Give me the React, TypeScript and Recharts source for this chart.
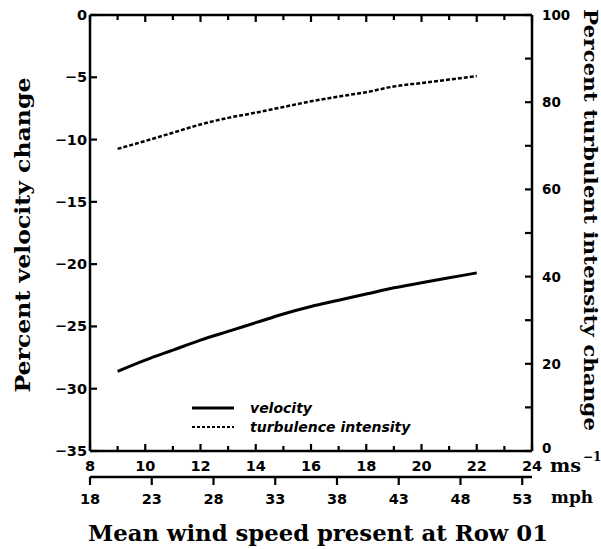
import { LineChart, Line, XAxis, YAxis, Legend, Label } from 'recharts';

const speedMs = [9, 10, 11, 12, 13, 14, 15, 16, 17, 18, 19, 20, 21, 22];
const velocityChange = [-28.6, -27.7, -26.9, -26.1, -25.4, -24.7, -24.0, -23.4, -22.9, -22.4, -21.9, -21.5, -21.1, -20.7];
const turbulenceChange = [69.3, 71.1, 73.0, 74.9, 76.4, 77.6, 78.9, 80.2, 81.3, 82.3, 83.6, 84.4, 85.2, 86.0];

const msTicks = [8, 9, 10, 11, 12, 13, 14, 15, 16, 17, 18, 19, 20, 21, 22, 23, 24];
const mphTicks = [18, 23, 28, 33, 38, 43, 48, 53];
const velocityTicks = [-35, -30, -25, -20, -15, -10, -5, 0];
const turbulenceTicks = [0, 10, 20, 30, 40, 50, 60, 70, 80, 90, 100];

const data = speedMs.map((s, i) => ({
  speed: s,
  velocity: velocityChange[i],
  turbulence: turbulenceChange[i],
}));

// mph ticks placed on the m/s scale (1 m/s = 2.237 mph, 18 mph at the left edge)
const mphTickPos = mphTicks.map((m) => 8 + (m - 18) / 2.237);

const sans = '"DejaVu Sans", sans-serif';
const serif = '"DejaVu Serif", serif';
const axisLine = { stroke: '#000', strokeWidth: 2.5 };

const fmt = (v: number) => (v < 0 ? '\u2212' + Math.abs(v) : String(v));

// ticks point into the plot, labels drawn by hand
function BottomTick(props: any) {
  const { x, y, payload } = props;
  const major = payload.value % 2 === 0;
  return (
    <g>
      <line x1={x} x2={x} y1={y} y2={y - (major ? 7 : 5)} stroke="#000" strokeWidth={2.2} />
      {major && (
        <text x={x} y={y + 20} textAnchor="middle" fontFamily={sans} fontWeight="bold" fontSize={14.5} fill="#000">
          {payload.value}
        </text>
      )}
    </g>
  );
}

function TopTick(props: any) {
  const { x, y, payload } = props;
  const major = payload.value % 2 === 0;
  return <line x1={x} x2={x} y1={y} y2={y + (major ? 7 : 5)} stroke="#000" strokeWidth={2.2} />;
}

function MphTick(props: any) {
  const { x, y, index } = props;
  return (
    <g>
      <line x1={x} x2={x} y1={y} y2={y + 8} stroke="#000" strokeWidth={2.2} />
      <text x={x} y={y + 27} textAnchor="middle" fontFamily={sans} fontWeight="bold" fontSize={14.5} fill="#000">
        {mphTicks[index]}
      </text>
    </g>
  );
}

function LeftTick(props: any) {
  const { x, y, payload } = props;
  return (
    <g>
      <line x1={x} x2={x + 7} y1={y} y2={y} stroke="#000" strokeWidth={2.2} />
      <text x={x - 3} y={y + 5} textAnchor="end" fontFamily={sans} fontWeight="bold" fontSize={14.5} fill="#000">
        {fmt(payload.value)}
      </text>
    </g>
  );
}

function RightTick(props: any) {
  const { x, y, payload } = props;
  const labelled = payload.value % 20 === 0;
  return (
    <g>
      <line x1={x} x2={x - 7} y1={y} y2={y} stroke="#000" strokeWidth={2.2} />
      {labelled && (
        <text x={x + 10} y={payload.value === 0 ? y + 2 : y + 5} textAnchor="start" fontFamily={sans} fontWeight="bold" fontSize={13.5} fill="#000">
          {payload.value}
        </text>
      )}
    </g>
  );
}

function LegendBox(props: any) {
  const items = (props.payload || [])
    .filter((it: any) => it.type !== 'none' && (it.value === 'velocity' || it.value === 'turbulence intensity'))
    .sort((a: any, b: any) => (a.value === 'velocity' ? -1 : b.value === 'velocity' ? 1 : 0));
  return (
    <div>
      {items.map((it: any) => (
        <div key={it.value} style={{ display: 'flex', alignItems: 'center', height: 19 }}>
          <svg width={46} height={6} style={{ marginRight: 12 }}>
            <line
              x1={0}
              x2={42}
              y1={3}
              y2={3}
              stroke="#000"
              strokeWidth={it.value === 'velocity' ? 3 : 2}
              strokeDasharray={it.value === 'velocity' ? undefined : '3 2'}
            />
          </svg>
          <span style={{ fontFamily: sans, fontStyle: 'italic', fontWeight: 'bold', fontSize: 14, color: '#000' }}>
            {it.value}
          </span>
        </div>
      ))}
    </div>
  );
}

export default function App() {
  return (
    <div style={{ position: 'absolute', left: 0, top: 0, background: '#fff' }}>
      <LineChart width={601} height={549} data={data} margin={{ top: 14, right: 0, bottom: 0, left: 0 }}>
        <XAxis
          xAxisId="b_mph"
          dataKey="speed"
          type="number"
          domain={[8, 24]}
          allowDataOverflow
          ticks={mphTickPos}
          interval={0}
          height={72}
          tickSize={0}
          tickMargin={0}
          tickLine={false}
          axisLine={axisLine}
          tick={<MphTick />}
        >
          <Label
            content={() => (
              <text x={551} y={503} fontFamily={serif} fontWeight="bold" fontSize={17} textLength={42} lengthAdjust="spacingAndGlyphs" fill="#000">
                mph
              </text>
            )}
          />
          <Label
            content={() => (
              <text
                x={88}
                y={541}
                fontFamily={serif}
                fontWeight="bold"
                fontSize={22}
                textLength={460}
                lengthAdjust="spacingAndGlyphs"
                fill="#000"
              >
                Mean wind speed present at Row 01
              </text>
            )}
          />
        </XAxis>
        <XAxis
          xAxisId="a_ms"
          dataKey="speed"
          type="number"
          domain={[8, 24]}
          ticks={msTicks}
          interval={0}
          height={26}
          tickSize={0}
          tickMargin={0}
          tickLine={false}
          axisLine={axisLine}
          tick={<BottomTick />}
        >
          <Label
            content={() => (
              <text x={550} y={472} fontFamily={serif} fontWeight="bold" fontSize={19} fill="#000">
                <tspan textLength={31} lengthAdjust="spacingAndGlyphs">ms</tspan>
                <tspan dx={2} dy={-11} fontSize={12}>
                  {'\u2212'}1
                </tspan>
              </text>
            )}
          />
        </XAxis>
        <XAxis
          xAxisId="c_top"
          dataKey="speed"
          orientation="top"
          type="number"
          domain={[8, 24]}
          allowDataOverflow
          ticks={msTicks}
          interval={0}
          height={1}
          tickSize={0}
          tickMargin={0}
          tickLine={false}
          axisLine={axisLine}
          tick={<TopTick />}
        />
        <YAxis
          yAxisId="velocity"
          type="number"
          domain={[-35, 0]}
          ticks={velocityTicks}
          interval={0}
          width={90}
          tickSize={0}
          tickMargin={0}
          tickLine={false}
          axisLine={axisLine}
          tick={<LeftTick />}
        >
          <Label
            content={() => (
              <text
                x={30}
                y={235}
                transform="rotate(-90 30 235)"
                textAnchor="middle"
                fontFamily={serif}
                fontWeight="bold"
                fontSize={21}
                textLength={315}
                lengthAdjust="spacingAndGlyphs"
                fill="#000"
              >
                Percent velocity change
              </text>
            )}
          />
        </YAxis>
        <YAxis
          yAxisId="turbulence"
          orientation="right"
          type="number"
          domain={[0, 100]}
          ticks={turbulenceTicks}
          interval={0}
          width={69}
          tickSize={0}
          tickMargin={0}
          tickLine={false}
          axisLine={axisLine}
          tick={<RightTick />}
        >
          <Label
            content={() => (
              <text
                x={584}
                y={220}
                transform="rotate(90 584 220)"
                textAnchor="middle"
                fontFamily={serif}
                fontWeight="bold"
                fontSize={19}
                textLength={422}
                lengthAdjust="spacingAndGlyphs"
                fill="#000"
              >
                Percent turbulent intensity change
              </text>
            )}
          />
        </YAxis>
        <Legend
          layout="vertical"
          align="center"
          verticalAlign="middle"
          content={<LegendBox />}
          wrapperStyle={{ position: 'absolute', left: 192, top: 398, width: 'auto', height: 'auto' }}
        />
        <Line
          xAxisId="a_ms"
          yAxisId="velocity"
          dataKey="velocity"
          name="velocity"
          type="monotone"
          stroke="#000"
          strokeWidth={3}
          dot={false}
          activeDot={false}
          isAnimationActive={false}
        />
        <Line
          xAxisId="a_ms"
          yAxisId="turbulence"
          dataKey="turbulence"
          name="turbulence intensity"
          type="monotone"
          stroke="#000"
          strokeWidth={2.5}
          strokeDasharray="4 2"
          dot={false}
          activeDot={false}
          isAnimationActive={false}
        />
        {/* invisible series so the mph and top axes get a scale */}
        <Line xAxisId="b_mph" yAxisId="velocity" dataKey="velocity" name="hidden-mph" stroke="none" legendType="none" dot={false} activeDot={false} isAnimationActive={false} />
        <Line xAxisId="c_top" yAxisId="velocity" dataKey="velocity" name="hidden-top" stroke="none" legendType="none" dot={false} activeDot={false} isAnimationActive={false} />
      </LineChart>
    </div>
  );
}
